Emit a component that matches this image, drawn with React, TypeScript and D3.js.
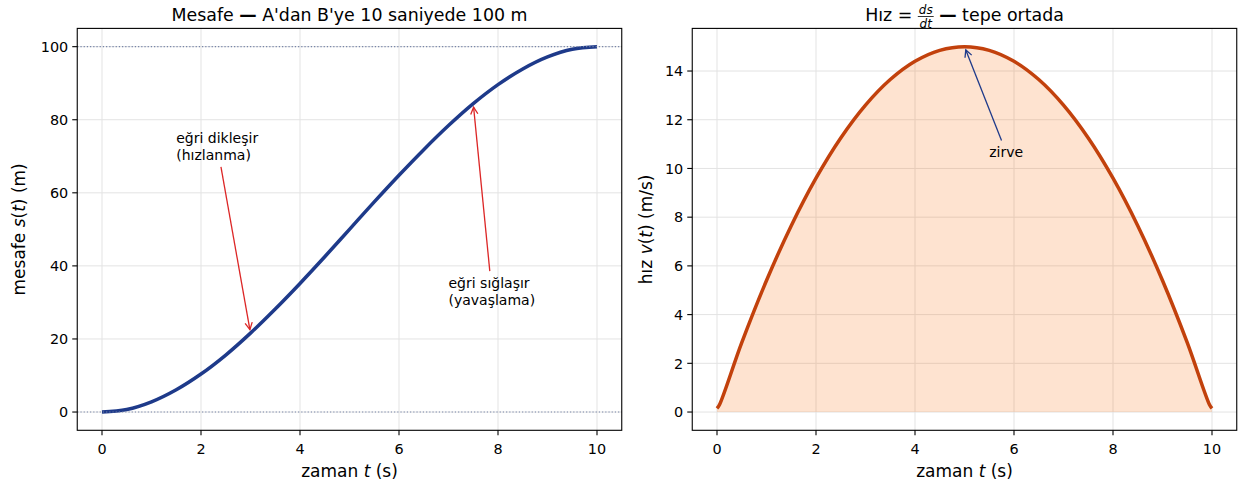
import React, { useEffect, useRef } from "react";
import * as d3 from "d3";

// ---- data ----
const timeS = [0, 0.5, 1, 1.5, 2, 2.5, 3, 3.5, 4, 4.5, 5, 5.5, 6, 6.5, 7, 7.5, 8, 8.5, 9, 9.5, 10];
const distance = [0, 0.7, 2.8, 6.1, 10.4, 15.6, 21.6, 28.2, 35.2, 42.5, 50, 57.5, 64.8, 71.8, 78.4, 84.4, 89.6, 93.9, 97.2, 99.3, 100];
const timeV = [0, 0.05, 0.5, 1, 1.5, 2, 2.5, 3, 3.5, 4, 4.5, 5, 5.5, 6, 6.5, 7, 7.5, 8, 8.5, 9, 9.5, 9.95, 10];
const speed = [0.15, 0.3, 2.85, 5.4, 7.65, 9.6, 11.25, 12.6, 13.65, 14.4, 14.85, 15, 14.85, 14.4, 13.65, 12.6, 11.25, 9.6, 7.65, 5.4, 2.85, 0.3, 0.15];
const xTicks = [0, 2, 4, 6, 8, 10];
const sTicks = [0, 20, 40, 60, 80, 100];
const vTicks = [0, 2, 4, 6, 8, 10, 12, 14];
const refLines = [0, 100];
const leftNotes = [
  { lines: ["eğri dikleşir", "(hızlanma)"], tx: 1.5, ty: 72.7, px: 3, py: 21.6 },
  { lines: ["eğri sığlaşır", "(yavaşlama)"], tx: 7, ty: 33, px: 7.5, py: 84.4 },
];
const rightNotes = [{ lines: ["zirve"], tx: 5.5, ty: 10.66, px: 5, py: 15 }];

const FONT = "DejaVu Sans, sans-serif";
const W = 1238, H = 486;

export default function App() {
  const ref = useRef<SVGSVGElement>(null);
  useEffect(() => {
    const svg = d3.select(ref.current!);
    svg.selectAll("*").remove();
    const top = 28.4, bot = 430.3;

    function panel(x0: number, x1: number, yDomain: [number, number], yTicks: number[]) {
      const x = d3.scaleLinear().domain([-0.5, 10.5]).range([x0, x1]);
      const y = d3.scaleLinear().domain(yDomain).range([bot, top]);
      const g = svg.append("g");
      const grid = g.append("g").attr("stroke", "#e3e3e3").attr("stroke-width", 1);
      xTicks.forEach((t) => grid.append("line").attr("x1", x(t)).attr("x2", x(t)).attr("y1", top).attr("y2", bot));
      yTicks.forEach((t) => grid.append("line").attr("x1", x0).attr("x2", x1).attr("y1", y(t)).attr("y2", y(t)));
      return { x, y, g };
    }

    function frame(p: any, x0: number, x1: number, yTicks: number[], fmt = (d: number) => String(d)) {
      const { x, y, g } = p;
      const ax = g.append("g");
      ax.append("rect").attr("x", x0).attr("y", top).attr("width", x1 - x0).attr("height", bot - top)
        .attr("fill", "none").attr("stroke", "#000").attr("stroke-width", 1.1);
      xTicks.forEach((t) => {
        ax.append("line").attr("x1", x(t)).attr("x2", x(t)).attr("y1", bot).attr("y2", bot + 5).attr("stroke", "#000").attr("stroke-width", 1.1);
        ax.append("text").attr("x", x(t)).attr("y", 453.5).attr("text-anchor", "middle")
          .attr("font-family", FONT).attr("font-size", 14.4).attr("fill", "#000").text(fmt(t));
      });
      yTicks.forEach((t) => {
        ax.append("line").attr("x1", x0 - 5).attr("x2", x0).attr("y1", y(t)).attr("y2", y(t)).attr("stroke", "#000").attr("stroke-width", 1.1);
        ax.append("text").attr("x", x0 - 9).attr("y", y(t)).attr("dy", "0.36em").attr("text-anchor", "end")
          .attr("font-family", FONT).attr("font-size", 14.4).attr("fill", "#000").text(fmt(t));
      });
      const xl = ax.append("text").attr("x", (x0 + x1) / 2).attr("y", 477).attr("text-anchor", "middle")
        .attr("font-family", FONT).attr("font-size", 17).attr("fill", "#000");
      xl.append("tspan").text("zaman ");
      xl.append("tspan").attr("font-style", "italic").text("t");
      xl.append("tspan").text(" (s)");
    }

    function ylabel(cx: number, parts: [string, boolean][]) {
      const t = svg.append("text").attr("transform", `translate(${cx},${(top + bot) / 2}) rotate(-90)`)
        .attr("text-anchor", "middle").attr("font-family", FONT).attr("font-size", 17).attr("fill", "#000")
        .style("white-space", "pre");
      parts.forEach(([s, it]) => t.append("tspan").attr("font-style", it ? "italic" : "normal").text(s));
    }

    function note(p: any, n: any, color: string) {
      const { x, y, g } = p;
      const t = g.append("text").attr("font-family", FONT).attr("font-size", 14).attr("fill", "#000");
      const lh = 16.8;
      const n0 = n.lines.length;
      const cy = y(n.ty);
      n.lines.forEach((s: string, i: number) => {
        t.append("tspan").attr("x", x(n.tx)).attr("y", cy + (i - (n0 - 1) / 2) * lh).attr("dy", "0.36em").text(s);
      });
      const bb = (t.node() as SVGTextElement).getBBox();
      const cx = bb.x + bb.width / 2, ccy = bb.y + bb.height / 2;
      const ex = x(n.px), ey = y(n.py);
      let dx = ex - cx, dy = ey - ccy;
      const len = Math.hypot(dx, dy);
      dx /= len; dy /= len;
      const hw = bb.width / 2 + 2, hh = bb.height / 2 + 2;
      const s = Math.min(Math.abs(hw / (dx || 1e-9)), Math.abs(hh / (dy || 1e-9))) + 2;
      const sx = cx + dx * s, sy = ccy + dy * s;
      const tx = ex - dx * 3.5, ty = ey - dy * 3.5;
      const a = g.append("g").attr("stroke", color).attr("stroke-width", 1.3).attr("fill", "none");
      a.append("line").attr("x1", sx).attr("y1", sy).attr("x2", tx).attr("y2", ty);
      const hl = 7, hwid = 3.6;
      const bx = tx - dx * hl, by = ty - dy * hl;
      a.append("path").attr("d", `M${bx - dy * hwid},${by + dx * hwid}L${tx},${ty}L${bx + dy * hwid},${by - dx * hwid}`);
    }

    // ---- Left panel ----
    const L = panel(77.25, 621.75, [-5, 105], sTicks);
    const lineS = d3.line<number>().x((_, i) => L.x(timeS[i])).y((d) => L.y(d)).curve(d3.curveCatmullRom);
    L.g.append("path").attr("d", lineS(distance)!).attr("fill", "none").attr("stroke", "#1e3a8a")
      .attr("stroke-width", 3.5).attr("stroke-linecap", "butt");
    refLines.forEach((r) => L.g.append("line").attr("x1", 77.25).attr("x2", 621.75).attr("y1", L.y(r)).attr("y2", L.y(r))
      .attr("stroke", "#7684a8").attr("stroke-width", 1.1).attr("stroke-dasharray", "1.2,2"));
    leftNotes.forEach((n) => note(L, n, "#dc2626"));
    frame(L, 77.25, 621.75, sTicks);
    ylabel(25, [["mesafe ", false], ["s", true], ["(", false], ["t", true], [") (m)", false]]);

    // ---- Right panel ----
    const R = panel(692.25, 1236.75, [-0.75, 15.75], vTicks);
    const area = d3.area<number>().x((_, i) => R.x(timeV[i])).y0(R.y(0)).y1((d) => R.y(d)).curve(d3.curveCatmullRom);
    R.g.append("path").attr("d", area(speed)!).attr("fill", "#f97316").attr("fill-opacity", 0.2);
    const lineV = d3.line<number>().x((_, i) => R.x(timeV[i])).y((d) => R.y(d)).curve(d3.curveCatmullRom);
    R.g.append("path").attr("d", lineV(speed)!).attr("fill", "none").attr("stroke", "#c2410c").attr("stroke-width", 3.5);
    rightNotes.forEach((n) => note(R, n, "#1e3a8a"));
    frame(R, 692.25, 1236.75, vTicks);
    ylabel(651.5, [["hız ", false], ["v", true], ["(", false], ["t", true], [") (m/s)", false]]);

    // ---- Titles ----
    const t1 = svg.append("text").attr("x", (77.25 + 621.75) / 2).attr("y", 21).attr("text-anchor", "middle")
      .attr("font-family", FONT).attr("font-size", 17.4).attr("fill", "#000").style("white-space", "pre");
    t1.append("tspan").text("Mesafe ");
    t1.append("tspan").attr("font-weight", "bold").text("—");
    t1.append("tspan").text(" A'dan B'ye 10 saniyede 100 m");

    const tg = svg.append("g").style("white-space", "pre");
    const p1 = tg.append("text").attr("y", 21).attr("font-family", FONT).attr("font-size", 17.4).style("white-space", "pre").text("Hız = ");
    const w1 = (p1.node() as SVGTextElement).getComputedTextLength();
    const num = tg.append("text").attr("y", 13.5).attr("font-family", FONT).attr("font-size", 12).attr("font-style", "italic").attr("text-anchor", "middle").text("ds");
    const den = tg.append("text").attr("y", 27.5).attr("font-family", FONT).attr("font-size", 12).attr("font-style", "italic").attr("text-anchor", "middle").text("dt");
    const fw = Math.max((num.node() as SVGTextElement).getComputedTextLength(), (den.node() as SVGTextElement).getComputedTextLength()) + 2;
    const p2 = tg.append("text").attr("y", 21).attr("font-family", FONT).attr("font-size", 17.4).style("white-space", "pre");
    p2.append("tspan").text(" ");
    p2.append("tspan").attr("font-weight", "bold").text("—");
    p2.append("tspan").text(" tepe ortada");
    const w2 = (p2.node() as SVGTextElement).getComputedTextLength();
    const total = w1 + fw + w2;
    const sx = (692.25 + 1236.75) / 2 - total / 2;
    p1.attr("x", sx);
    num.attr("x", sx + w1 + fw / 2);
    den.attr("x", sx + w1 + fw / 2);
    tg.append("line").attr("x1", sx + w1).attr("x2", sx + w1 + fw).attr("y1", 16.5).attr("y2", 16.5).attr("stroke", "#000").attr("stroke-width", 0.8);
    p2.attr("x", sx + w1 + fw);
  }, []);

  return (
    <svg ref={ref} width={W} height={H} style={{ position: "absolute", left: 0, top: 0, background: "#fff" }} />
  );
}
